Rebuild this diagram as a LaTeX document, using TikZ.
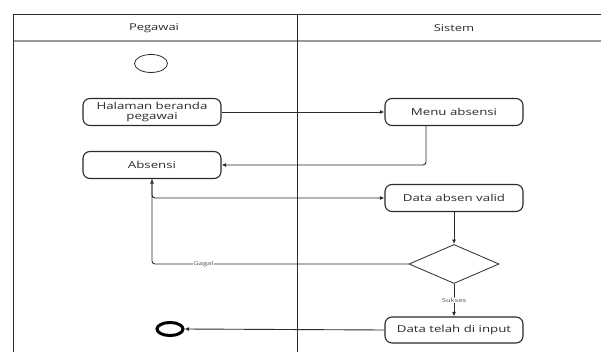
\documentclass[tikz,border=0pt]{standalone}
\usepackage{fontspec}
\setmainfont{Open Sans}
\newfontfamily\lanefont[FakeStretch=1.38]{Open Sans}
\usetikzlibrary{shapes.geometric,arrows.meta}
\definecolor{ink}{HTML}{2B2B2B}
\definecolor{rule}{HTML}{9A9A9A}
\begin{document}
\begin{tikzpicture}[x=1pt,y=-1pt,
  activity/.style={draw=ink,line width=1.1pt,rounded corners=7pt,minimum width=138pt,
    minimum height=27pt,inner sep=1pt,align=center,font=\lanefont\fontsize{9.6}{10.5}\selectfont,text=ink},
  decision/.style={diamond,draw=ink,line width=0.8pt,minimum width=90pt,minimum height=39pt,inner sep=0pt},
  flow/.style={draw=ink,line width=0.9pt,rounded corners=3pt,-{Latex[length=4.5pt,width=4pt]}},
  guard/.style={fill=white,inner sep=0.5pt,text=ink!80,font=\lanefont\fontsize{5.5}{6}\selectfont},
  lanehead/.style={font=\lanefont\fontsize{9.4}{10}\selectfont,text=ink}]
\useasboundingbox (0,0) rectangle (601,352);
\fill[white] (0,0) rectangle (601,352);

% swimlane frame
\draw[ink,line width=0.9pt] (13,14) -- (601,14);
\draw[rule,line width=1.8pt] (13,41) -- (601,41);
\draw[ink,line width=0.9pt] (13,14) -- (13,352);
\draw[ink,line width=0.9pt] (297,14) -- (297,352);
\node[lanehead] (lanePeg) at (154,28) {Pegawai};
\node[lanehead] (laneSis) at (454,28) {Sistem};

% activities
\node[ellipse,draw=ink,line width=0.8pt,minimum width=33pt,minimum height=18pt,inner sep=0pt] (start) at (151,63.5) {};
\node[activity] (beranda) at (152,112) {Halaman beranda\\pegawai};
\node[activity] (menu) at (454,112) {Menu absensi};
\node[activity] (absensi) at (152,165) {Absensi};
\node[activity] (valid) at (454,198) {Data absen valid};
\node[decision] (cek) at (454,264) {};
\node[activity,minimum height=26pt] (input) at (454,330) {Data telah di input};
\node[ellipse,draw=black,line width=3pt,minimum width=26pt,minimum height=13pt,inner sep=0pt] (finish) at (170,329) {};

% control flow
\draw[flow] (beranda.east) -- (menu.west);
\draw[flow] ([xshift=-28pt]menu.south) |- (absensi.east);
\draw[flow] (absensi.south) |- (valid.west);
\draw[flow] (valid.south) -- (cek.north);
\draw[flow] (cek.west) -| node[guard,pos=0.4] {Gagal} (absensi.south);
\draw[flow] (cek.south) -- node[guard,pos=0.5] {Sukses} (input.north);
\draw[flow] (input.west) -- (finish.east);
\end{tikzpicture}
\end{document}
